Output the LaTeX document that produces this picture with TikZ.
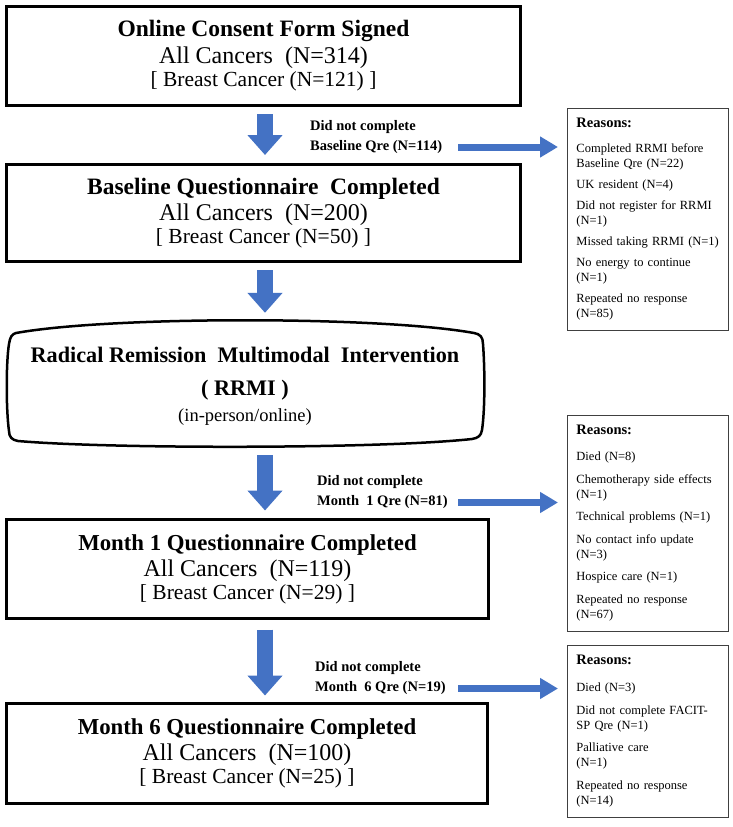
\documentclass[tikz,border=0pt]{standalone}
\usepackage{fontspec}
\setmainfont{Liberation Serif}
\usetikzlibrary{calc,arrows.meta}
\definecolor{arrowblue}{HTML}{4472C4}
\begin{document}
\begin{tikzpicture}[x=1pt,y=-1pt,
  mainbox/.style={draw, line width=3pt, align=center, inner sep=0pt,
    font=\fontsize{24}{25}\selectfont},
  reasonbox/.style={draw=black!75, line width=0.9pt, anchor=north west,
    text width=143pt, inner xsep=9pt, inner ysep=10pt, align=left,
    font=\fontsize{12.5}{15}\selectfont},
  droplabel/.style={anchor=west, align=left, inner sep=0pt,
    font=\bfseries\fontsize{14.5}{20}\selectfont},
  varrow/.style={arrowblue, line width=16pt, -{Triangle[width=34pt,length=20pt]}},
  harrow/.style={arrowblue, line width=7pt, -{Triangle[width=20pt,length=18pt]}},
  rrmiline/.style={line width=2.5pt, line join=round}
]
\fill[white] (0,0) rectangle (732,827);
\useasboundingbox (0,0) rectangle (732,827);

% main boxes
\node[mainbox, minimum width=514pt, minimum height=99pt] (b1) at (263.5,56)
  {{\bfseries\fontsize{23.5}{25}\selectfont Online Consent Form Signed}\\[2pt] All Cancers\ \ (N=314)\\[-2pt]
   {\fontsize{21.5}{22}\selectfont [ Breast Cancer (N=121) ]}};
\node[mainbox, minimum width=514pt, minimum height=97pt] (b2) at (263.5,213)
  {{\bfseries\fontsize{23.5}{25}\selectfont Baseline Questionnaire\ \ Completed}\\[1pt] All Cancers\ \ (N=200)\\[-2pt]
   {\fontsize{21.5}{22}\selectfont [ Breast Cancer (N=50) ]}};
\node[mainbox, minimum width=482pt, minimum height=99pt] (m1) at (247.5,569)
  {{\bfseries\fontsize{22.8}{25}\selectfont Month 1 Questionnaire Completed}\\[1pt] All Cancers\ \ (N=119)\\[-2pt]
   {\fontsize{21.5}{22}\selectfont [ Breast Cancer (N=29) ]}};
\node[mainbox, minimum width=481pt, minimum height=100pt] (m6) at (247,753.5)
  {{\bfseries\fontsize{22.8}{25}\selectfont Month 6 Questionnaire Completed}\\[1pt] All Cancers\ \ (N=100)\\[-2pt]
   {\fontsize{21.5}{22}\selectfont [ Breast Cancer (N=25) ]}};

% RRMI box
\draw[rrmiline] (16,333) .. controls (110,316) and (380,316) .. (474,333)
  .. controls (480,334) and (483,337) .. (483,344)
  .. controls (485,370) and (485,410) .. (482,430)
  .. controls (481,436) and (478,438) .. (472,439)
  .. controls (380,449) and (110,449) .. (18,441)
  .. controls (12,440) and (9,437) .. (9,431)
  .. controls (6,410) and (6,362) .. (9,344)
  .. controls (10,337) and (12,334) .. (16,333) -- cycle;
\node[align=center, inner sep=0pt, minimum width=476pt, minimum height=125pt,
  font=\bfseries\fontsize{22.2}{24}\selectfont] (rrmi) at (245,386)
  {Radical Remission\ \ Multimodal\ \ Intervention\\[9pt] ( RRMI\ )\\[2pt]
   {\mdseries\fontsize{18.5}{20}\selectfont (in-person/online)}};

% vertical arrows
\coordinate (vx) at (265,0);
\draw[varrow] ($(vx |- b1.south)+(0,7)$) -- ($(vx |- b2.north)+(0,-8)$);
\draw[varrow] ($(vx |- b2.south)+(0,7)$) -- ($(vx |- rrmi.north)+(0,-10.5)$);
\draw[varrow] ($(vx |- rrmi.south)+(0,6.5)$) -- ($(vx |- m1.north)+(0,-7.5)$);
\draw[varrow] ($(vx |- m1.south)+(0,9.5)$) -- ($(vx |- m6.north)+(0,-6.5)$);

% drop-out labels
\node[droplabel] (lab1) at (310,137) {Did not complete\\ Baseline Qre (N=114)};
\node[droplabel] (lab2) at (317,492.5) {Did not complete\\ Month\ \ 1 Qre (N=81)};
\node[droplabel] (lab3) at (315,678.5) {Did not complete\\ Month\ \ 6 Qre (N=19)};

% reason boxes
\node[reasonbox] (r1) at (567,108)
  {{\fontsize{14.5}{15}\bfseries Reasons:}\\[10pt]
   Completed RRMI before\\ Baseline Qre (N=22)\\[6pt]
   UK resident (N=4)\\[6pt]
   Did not register for RRMI\\ (N=1)\\[6pt]
   Missed taking RRMI (N=1)\\[6pt]
   No energy to continue\\ (N=1)\\[6pt]
   Repeated no response\\ (N=85)};
\node[reasonbox] (r2) at (567,415)
  {{\fontsize{14.5}{15}\bfseries Reasons:}\\[11pt]
   Died (N=8)\\[7.5pt]
   Chemotherapy side effects\\ (N=1)\\[7.5pt]
   Technical problems (N=1)\\[7.5pt]
   No contact info update\\ (N=3)\\[7.5pt]
   Hospice care (N=1)\\[7.5pt]
   Repeated no response\\ (N=67)};
\node[reasonbox] (r3) at (567,645)
  {{\fontsize{14.5}{15}\bfseries Reasons:}\\[12pt]
   Died (N=3)\\[7.5pt]
   Did not complete FACIT-\\ SP Qre (N=1)\\[7.5pt]
   Palliative care\\ (N=1)\\[7.5pt]
   Repeated no response\\ (N=14)};

% horizontal arrows
\coordinate (hx) at (458,0);
\draw[harrow] ($(hx |- lab1.west)+(0,10)$) -- ($(r1.west |- lab1.west)+(-9,10)$);
\draw[harrow] ($(hx |- lab2.west)+(0,10)$) -- ($(r2.west |- lab2.west)+(-9,10)$);
\draw[harrow] ($(hx |- lab3.west)+(0,10)$) -- ($(r3.west |- lab3.west)+(-9,10)$);
\end{tikzpicture}
\end{document}
